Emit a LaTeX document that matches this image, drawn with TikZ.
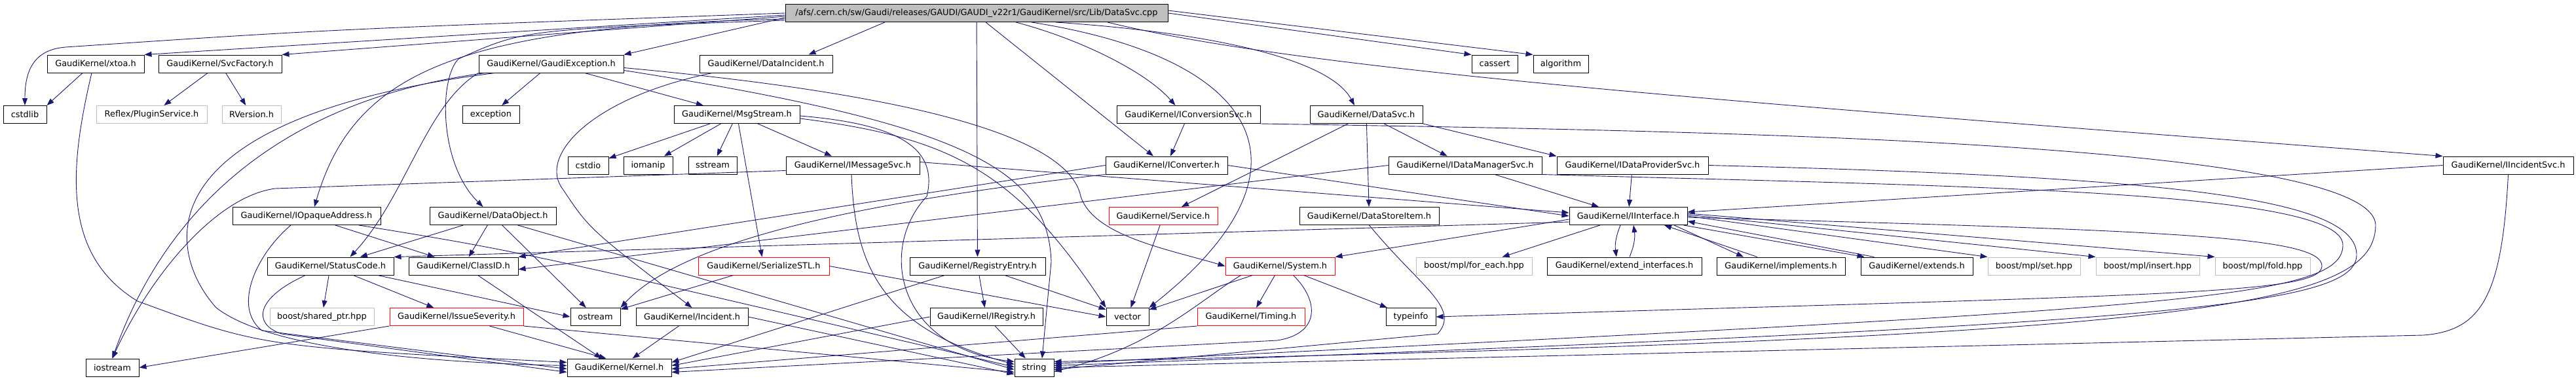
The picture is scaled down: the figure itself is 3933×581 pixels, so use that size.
\documentclass[tikz,border=0pt]{standalone}
\usepackage{fontspec}
\setmainfont{DejaVu Sans}
\usepackage{tikz}
\usetikzlibrary{arrows.meta}
\definecolor{incblue}{HTML}{191970}
\definecolor{boxgrey}{HTML}{BFBFBF}
\tikzset{
   hfile/.style={draw=black, line width=1pt, inner sep=0pt,
      minimum height=27pt, font=\fontsize{12.9pt}{15pt}\selectfont},
   hred/.style={hfile, draw=red},
   hsys/.style={hfile, draw=boxgrey},
   hroot/.style={hfile, fill=boxgrey},
   incl/.style={draw=incblue, line width=0.9pt,
      -{Triangle[length=11pt,width=8pt]}},
    }

\begin{document}
\begin{tikzpicture}[x=1pt, y=-1pt]
       \useasboundingbox (0,0) rectangle (3933,581);
       \node[hroot, minimum width=584] (root) at (1491,20) {/afs/.cern.ch/sw/Gaudi/releases/GAUDI/GAUDI\_v22r1/GaudiKernel/src/Lib/DataSvc.cpp};

       \node[hfile, minimum width=148] (xtoa) at (146,97.5) {GaudiKernel/xtoa.h};
       \node[hfile, minimum width=188] (svcfac) at (336,97.5) {GaudiKernel/SvcFactory.h};
       \node[hfile, minimum width=221] (gexc) at (841.5,97.5) {GaudiKernel/GaudiException.h};
       \node[hfile, minimum width=203] (dincident) at (1169.5,97.5) {GaudiKernel/DataIncident.h};
       \node[hfile, minimum width=70] (cassert) at (2282,97.5) {cassert};
       \node[hfile, minimum width=84] (algorithm) at (2383,97.5) {algorithm};

       \node[hfile, minimum width=66] (cstdlib) at (38,175) {cstdlib};
       \node[hsys, minimum width=169] (plugin) at (231.5,175) {Reflex/PluginService.h};
       \node[hsys, minimum width=90] (rversion) at (384,175) {RVersion.h};
       \node[hfile, minimum width=87] (exception) at (749.5,175) {exception};
       \node[hfile, minimum width=192] (msgstream) at (1125,175) {GaudiKernel/MsgStream.h};
       \node[hfile, minimum width=219] (iconvsvc) at (1814.5,175) {GaudiKernel/IConversionSvc.h};
       \node[hfile, minimum width=172] (dsvc) at (2086,175) {GaudiKernel/DataSvc.h};

       \node[hfile, minimum width=62] (cstdio) at (898,252.5) {cstdio};
       \node[hfile, minimum width=75] (iomanip) at (989.5,252.5) {iomanip};
       \node[hfile, minimum width=74] (sstream) at (1088,252.5) {sstream};
       \node[hfile, minimum width=204] (imsg) at (1302,252.5) {GaudiKernel/IMessageSvc.h};
       \node[hfile, minimum width=186] (iconverter) at (1781,252.5) {GaudiKernel/IConverter.h};
       \node[hfile, minimum width=234] (idatamgr) at (2237,252.5) {GaudiKernel/IDataManagerSvc.h};
       \node[hfile, minimum width=231] (idataprov) at (2492.5,252.5) {GaudiKernel/IDataProviderSvc.h};
       \node[hfile, minimum width=199] (iincident) at (3829.5,252.5) {GaudiKernel/IIncidentSvc.h};

       \node[hfile, minimum width=226] (iopaque) at (468,330) {GaudiKernel/IOpaqueAddress.h};
       \node[hfile, minimum width=193] (dobject) at (752.5,330) {GaudiKernel/DataObject.h};
       \node[hred, minimum width=166] (service) at (1776,330) {GaudiKernel/Service.h};
       \node[hfile, minimum width=213] (dstore) at (2090.5,330) {GaudiKernel/DataStoreItem.h};
       \node[hfile, minimum width=180] (iinterface) at (2486,330) {GaudiKernel/IInterface.h};

       \node[hfile, minimum width=193] (statuscode) at (504.5,406.5) {GaudiKernel/StatusCode.h};
       \node[hfile, minimum width=167] (classid) at (707.5,406.5) {GaudiKernel/ClassID.h};
       \node[hred, minimum width=200] (serialstl) at (1166,406.5) {GaudiKernel/SerializeSTL.h};
       \node[hfile, minimum width=207] (regentry) at (1492.5,406.5) {GaudiKernel/RegistryEntry.h};
       \node[hred, minimum width=167] (system) at (1954.5,406.5) {GaudiKernel/System.h};
       \node[hsys, minimum width=177] (foreach) at (2250.5,406.5) {boost/mpl/for\_each.hpp};
       \node[hfile, minimum width=236] (extint) at (2480,406.5) {GaudiKernel/extend\_interfaces.h};
       \node[hfile, minimum width=196] (implements) at (2719,406.5) {GaudiKernel/implements.h};
       \node[hfile, minimum width=171] (extends) at (2926.5,406.5) {GaudiKernel/extends.h};
       \node[hsys, minimum width=141] (mplset) at (3105.5,406.5) {boost/mpl/set.hpp};
       \node[hsys, minimum width=158] (mplinsert) at (3279,406.5) {boost/mpl/insert.hpp};
       \node[hsys, minimum width=145] (mplfold) at (3454.5,406.5) {boost/mpl/fold.hpp};

       \node[hsys, minimum width=159] (sharedptr) at (491.5,484) {boost/shared\_ptr.hpp};
       \node[hred, minimum width=204] (issue) at (697,484) {GaudiKernel/IssueSeverity.h};
       \node[hfile, minimum width=76] (ostream) at (909,484) {ostream};
       \node[hfile, minimum width=171] (incident) at (1056.5,484) {GaudiKernel/Incident.h};
       \node[hfile, minimum width=172] (iregistry) at (1506,484) {GaudiKernel/IRegistry.h};
       \node[hfile, minimum width=65] (vector) at (1721.5,484) {vector};
       \node[hred, minimum width=164] (timing) at (1910,484) {GaudiKernel/Timing.h};
       \node[hfile, minimum width=76] (typeinfo) at (2154,484) {typeinfo};

       \node[hfile, minimum width=81] (iostream) at (171.5,561.5) {iostream};
       \node[hfile, minimum width=159] (kernel) at (945.5,561.5) {GaudiKernel/Kernel.h};
       \node[hfile, minimum width=60] (string) at (1579,561.5) {string};

       \draw[incl] (root.west) .. controls (500,45) .. (100,72) .. controls (50,76) and (38,110) .. (cstdlib.north);
       \draw[incl] ([yshift=-3pt]root.west) -- (xtoa.north east);
       \draw[incl] ([yshift=-5pt]root.west) -- (svcfac.north east);
       \draw[incl] ([yshift=-7pt]root.west) -- (gexc.north east);
       \draw[incl] ([xshift=-140pt]root.south) -- ([xshift=65pt]dincident.north);
       \draw[incl] ([yshift=-9pt]root.west) .. controls (700,40) and (540,110) .. ([xshift=12pt]iopaque.north);
       \draw[incl] ([yshift=-11pt]root.west) .. controls (800,45) .. (700,90) .. controls (670,120) and (670,250) .. ([xshift=-15pt]dobject.north);
       \draw[incl] (root) -- (regentry);
       \draw[incl] ([xshift=14pt]root.south) -- ([xshift=-20pt]iconverter.north);
       \draw[incl] ([xshift=60pt]root.south) .. controls (1650,60) and (1750,110) .. ([xshift=-20pt]iconvsvc.north);
       \draw[incl] ([xshift=84pt]root.south) .. controls (1930,90) and (2020,260) .. (vector.north east);
       \draw[incl] ([xshift=121pt]root.south) .. controls (1850,50) and (2030,90) .. ([xshift=-18pt]dsvc.north);
       \draw[incl] (root.east) -- (cassert.north west);
       \draw[incl] ([yshift=4pt]root.east) -- (algorithm.north west);
       \draw[incl] ([xshift=200pt]root.south) .. controls (2000,110) and (2700,160) .. (iincident.north west);

       \draw[incl] ([xshift=-20pt]xtoa.south) -- (cstdlib.north east);
       \draw[incl] ([xshift=-6pt]xtoa.south) .. controls (105,260) and (95,390) .. (210,460) .. controls (400,530) .. ([yshift=8pt]kernel.west);
       \draw[incl] (svcfac) -- (plugin);
       \draw[incl] (svcfac) -- (rversion);

       \draw[incl] (gexc) -- (exception);
       \draw[incl] (gexc) -- (msgstream);
       \draw[incl] (gexc.south west) .. controls (650,160) and (620,300) .. ([xshift=30pt]statuscode.north);
       \draw[incl] ([xshift=10pt]gexc.south west) .. controls (450,150) and (260,300) .. (iostream.north);
       \draw[incl] ([xshift=25pt]gexc.south west) .. controls (220,180) and (250,380) .. (330,470) .. controls (420,540) and (700,555) .. ([yshift=3pt]kernel.west);
       \draw[incl] ([yshift=-10pt]gexc.east) .. controls (1480,190) and (1600,260) .. (1605,400) -- ([xshift=12pt]string.north);
       \draw[incl] ([yshift=-6pt]gexc.east) .. controls (1350,140) and (1630,200) .. (1650,300) .. controls (1670,360) and (1780,380) .. (system.west);
       \draw[incl] ([xshift=20pt]dincident.south west) .. controls (900,150) and (820,240) .. (860,290) .. controls (900,350) .. (incident.north);

       \draw[incl] (msgstream) -- (cstdio);
       \draw[incl] (msgstream) -- (iomanip);
       \draw[incl] (msgstream) -- (sstream);
       \draw[incl] (msgstream) -- (imsg);
       \draw[incl] (msgstream) -- (serialstl);
       \draw[incl] ([yshift=-2pt]msgstream.east) .. controls (1380,190) and (1432,230) .. (1415,300) .. controls (1340,380) and (1370,530) .. ([yshift=9pt]string.west);
       \draw[incl] ([yshift=-6pt]msgstream.east) .. controls (1450,210) and (1550,260) .. (vector.north west);

       \draw[incl] ([yshift=5pt]imsg.east) -- ([yshift=5pt]iinterface.west);
       \draw[incl] ([xshift=-2pt]imsg.south) .. controls (1305,400) and (1340,500) .. ([yshift=5pt]string.west);
       \draw[incl] ([yshift=-8pt]imsg.west) -- (420,288) .. controls (330,300) and (230,420) .. (iostream.north);

       \draw[incl] (iconvsvc) -- (iconverter);
       \draw[incl] (iconvsvc.south east) .. controls (2600,200) and (3630,215) .. (3627,345) .. controls (3624,470) and (3350,515) .. ([yshift=9pt]string.east);
       \draw[incl] (iconverter.east) -- (iinterface.west);
       \draw[incl] (iconverter.west) -- (classid.north east);
       \draw[incl] (iconverter.south west) .. controls (1300,310) and (1040,370) .. (ostream.north east);

       \draw[incl] (dsvc) -- (service);
       \draw[incl] (dsvc) -- (dstore);
       \draw[incl] (dsvc) -- (idatamgr);
       \draw[incl] (dsvc.south east) -- (idataprov.north west);

       \draw[incl] (idatamgr) -- (iinterface);
       \draw[incl] (idatamgr.west) -- ([yshift=-5pt]classid.east);
       \draw[incl] (idatamgr.south east) .. controls (3000,285) and (3580,290) .. (3577,375) .. controls (3576,460) and (3300,472) .. ([yshift=6pt]string.east);
       \draw[incl] (idataprov) -- (iinterface);
       \draw[incl] (idataprov.east) .. controls (3300,270) and (3600,300) .. (3598,390) .. controls (3596,470) and (3300,495) .. ([yshift=3pt]string.east);
       \draw[incl] (iincident.west) -- ([yshift=6pt]iinterface.east);
       \draw[incl] (iincident.south) .. controls (3820,450) and (3790,505) .. (3700,512) -- (string.east);

       \draw[incl] (iopaque) -- (classid);
       \draw[incl] ([xshift=-24pt]iopaque.south) .. controls (390,390) and (355,470) .. (400,505) -- ([yshift=-2pt]kernel.west);
       \draw[incl] ([xshift=80pt]iopaque.south) .. controls (800,385) .. ([yshift=1pt]string.west);
       \draw[incl] (dobject) -- (statuscode);
       \draw[incl] (dobject) -- (classid);
       \draw[incl] (dobject) -- (ostream);
       \draw[incl] ([xshift=-59pt]dobject.south east) -- ([yshift=-3pt]string.west);

       \draw[incl] (statuscode) -- (sharedptr);
       \draw[incl] (statuscode) -- (issue);
       \draw[incl] ([xshift=-25pt]statuscode.south east) -- (ostream.west);
       \draw[incl] ([xshift=-38pt]statuscode.south) .. controls (390,455) and (385,495) .. (430,510) -- ([yshift=-7pt]kernel.west);
       \draw[incl] ([xshift=22pt]classid.south) -- ([xshift=-27pt]kernel.north);

       \draw[incl] (serialstl) -- (ostream);
       \draw[incl] (serialstl.east) -- (vector.west);
       \draw[incl] (regentry) -- (iregistry);
       \draw[incl] (regentry) -- (vector);
       \draw[incl] ([xshift=-50pt]regentry.south) -- ([yshift=8pt]kernel.east);
       \draw[incl] (iregistry) -- (string);
       \draw[incl] (iregistry.west) -- ([yshift=3pt]kernel.east);
       \draw[incl] (service) -- (vector);
       \draw[incl] (dstore.south) .. controls (2170,440) and (2230,470) .. (2195,510) -- ([yshift=-3pt]string.east);

       \draw[incl] (system) -- (vector);
       \draw[incl] (system) -- (timing);
       \draw[incl] (system) -- (typeinfo);
       \draw[incl] ([xshift=-60pt]system.south) .. controls (1830,460) and (1760,530) .. ([yshift=-6pt]string.east);
       \draw[incl] ([xshift=20pt]system.south) .. controls (2015,460) and (2015,510) .. (1950,520) -- ([yshift=-7pt]kernel.east);
       \draw[incl] (timing.south west) -- ([yshift=-2pt]kernel.east);

       \draw[incl] (issue.south west) -- (iostream.east);
       \draw[incl] (issue) -- ([xshift=-20pt]kernel.north);
       \draw[incl] (issue.south east) -- ([yshift=-7pt]string.west);
       \draw[incl] (incident) -- (kernel);
       \draw[incl] (incident.east) -- ([yshift=-10pt]string.west);

       \draw[incl] (iinterface) -- (foreach);
       \draw[incl] ([xshift=-12pt]iinterface.south) to[bend right=15] ([xshift=-12pt]extint.north);
       \draw[incl] ([xshift=8pt]extint.north) to[bend right=15] ([xshift=8pt]iinterface.south);
       \draw[incl] ([xshift=70pt]iinterface.south) -- ([xshift=-57pt]implements.north);
       \draw[incl] ([xshift=-36pt]implements.north) -- ([xshift=55pt]iinterface.south);
       \draw[incl] ([xshift=-6pt]iinterface.south east) -- ([xshift=-80pt]extends.north);
       \draw[incl] ([xshift=-65pt]extends.north) -- ([yshift=-8pt]iinterface.east);
       \draw[incl] (iinterface.east) -- (mplset.north west);
       \draw[incl] ([yshift=2pt]iinterface.east) -- (mplinsert.north west);
       \draw[incl] ([yshift=4pt]iinterface.east) -- (mplfold.north west);
       \draw[incl] ([yshift=-2pt]iinterface.east) .. controls (3300,352) and (3548,360) .. (3545,407) .. controls (3542,450) and (3300,450) .. (typeinfo.east);
       \draw[incl] ([yshift=-5pt]iinterface.west) -- (system.north east);
       \draw[incl] ([yshift=-9pt]iinterface.west) -- (statuscode.north east);
   \end{tikzpicture}
\end{document}
